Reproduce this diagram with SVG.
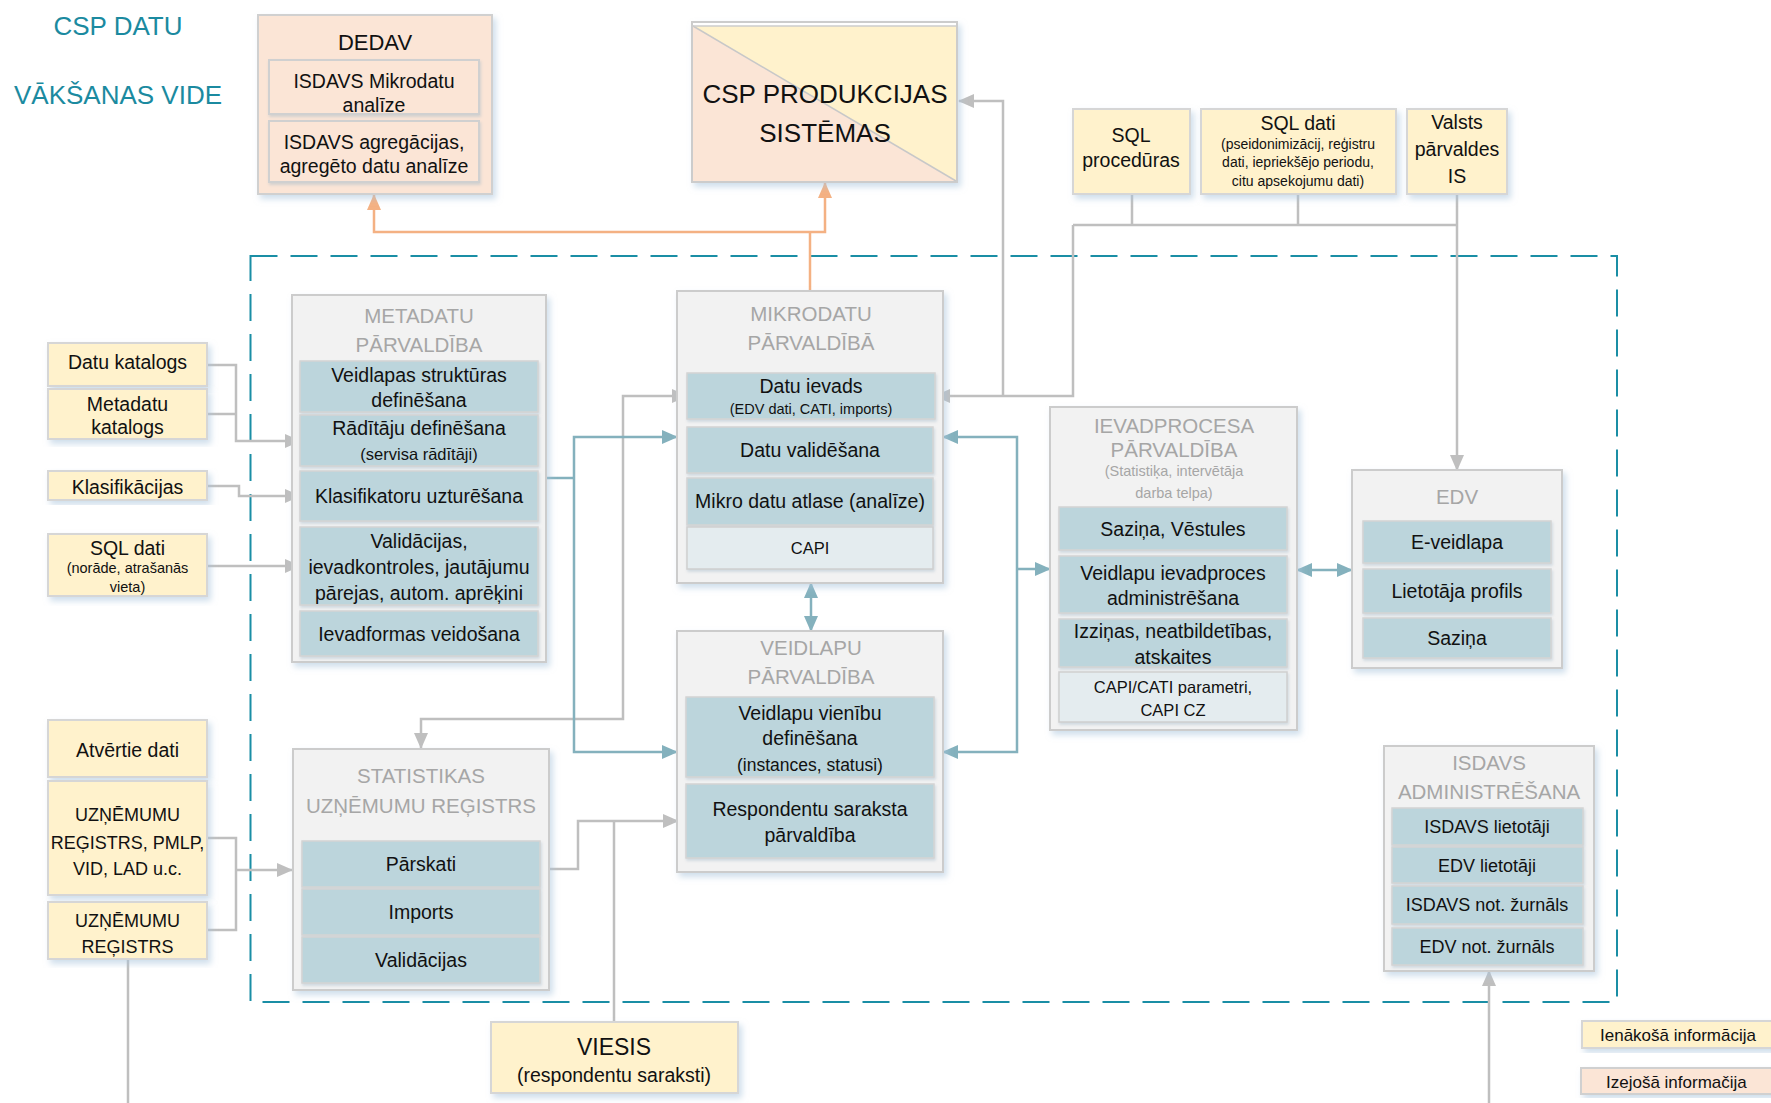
<svg xmlns="http://www.w3.org/2000/svg" width="1771" height="1103" viewBox="0 0 1771 1103">
<style>
text{font-family:"Liberation Sans",Arial,sans-serif;fill:#111;text-anchor:middle;dominant-baseline:central}
.in{fill:#fff2cc;stroke:#d6d6d6;stroke-width:2}
.out{fill:#fbe5d6;stroke:#d0d0d0;stroke-width:2}
.mod{fill:#f2f2f2;stroke:#cccccc;stroke-width:2}
.sub{fill:#bcd5dc;stroke:#d4d4d4;stroke-width:1.5}
.subl{fill:#e4ecef;stroke:#cfcfcf;stroke-width:1.5}
.mt{font-size:20.5px;fill:#a6a6a6}
.mts{font-size:14.5px;fill:#a6a6a6}
.f19{font-size:19.5px}
.f18{font-size:18px}
.f17{font-size:17px}
.f16{font-size:16.5px}
.f14{font-size:14.5px}
.title{font-size:26px;fill:#1b8aa0;text-anchor:middle;dominant-baseline:alphabetic}
.cg{fill:none;stroke:#bfbfbf;stroke-width:2.5}
.ct{fill:none;stroke:#84b1bd;stroke-width:2.5}
.co{fill:none;stroke:#f4b183;stroke-width:2.5}
</style>
<defs>
<filter id="sh" x="-10%" y="-10%" width="125%" height="125%">
<feDropShadow dx="3" dy="4" stdDeviation="3" flood-color="#a9c4dc" flood-opacity="0.55"/>
</filter>
<filter id="sh2" x="-10%" y="-10%" width="125%" height="130%">
<feDropShadow dx="1" dy="2" stdDeviation="1.5" flood-color="#a0b8c8" flood-opacity="0.45"/>
</filter>
<marker id="ag" viewBox="0 0 16 14" refX="15" refY="7" markerWidth="16" markerHeight="14" markerUnits="userSpaceOnUse" orient="auto-start-reverse"><path d="M0,0 L16,7 L0,14 z" fill="#bfbfbf"/></marker>
<marker id="at" viewBox="0 0 16 14" refX="15" refY="7" markerWidth="16" markerHeight="14" markerUnits="userSpaceOnUse" orient="auto-start-reverse"><path d="M0,0 L16,7 L0,14 z" fill="#84b1bd"/></marker>
<marker id="ao" viewBox="0 0 16 14" refX="15" refY="7" markerWidth="16" markerHeight="14" markerUnits="userSpaceOnUse" orient="auto-start-reverse"><path d="M0,0 L16,7 L0,14 z" fill="#f4b183"/></marker>
</defs>

<rect width="1771" height="1103" fill="#ffffff"/>

<text class="title" x="118" y="35">CSP DATU</text>
<text class="title" x="118" y="104">VĀKŠANAS VIDE</text>

<rect id="boundary" x="250.5" y="256" width="1366.5" height="746" fill="none" stroke="#1a8ea5" stroke-width="2" stroke-dasharray="27 13"/>

<g id="connectors">
<path class="cg" d="M207,365 H236 V441 H300" marker-end="url(#ag)"/>
<path class="cg" d="M207,414 H236"/>
<path class="cg" d="M207,486 H239 V496 H300" marker-end="url(#ag)"/>
<path class="cg" d="M207,566 H300" marker-end="url(#ag)"/>
<path class="cg" d="M207,838 H236 V930 H207"/>
<path class="cg" d="M236,870 H292" marker-end="url(#ag)"/>
<path class="cg" d="M128,959 V1103"/>
<path class="cg" d="M421,748 V719 H623 V396 H687" marker-start="url(#ag)" marker-end="url(#ag)"/>
<path class="cg" d="M549,869 H578 V821 H678" marker-end="url(#ag)"/>
<path class="cg" d="M614,1022 V821"/>
<path class="cg" d="M1132,194 V225 M1298,194 V225 M1073,225 H1457"/>
<path class="cg" d="M1457,194 V470" marker-end="url(#ag)"/>
<path class="cg" d="M1073,225 V396 H935" marker-end="url(#ag)"/>
<path class="cg" d="M1003,396 V101 H959" marker-end="url(#ag)"/>
<path class="cg" d="M1489,1103 V971" marker-end="url(#ag)"/>

<path class="ct" d="M546,478 H574"/>
<path class="ct" d="M574,478 V437 H677" marker-end="url(#at)"/>
<path class="ct" d="M574,478 V752 H677" marker-end="url(#at)"/>
<path class="ct" d="M943,437 H1017 V752 H943" marker-start="url(#at)" marker-end="url(#at)"/>
<path class="ct" d="M1017,569 H1050" marker-end="url(#at)"/>
<path class="ct" d="M811,583 V631" marker-start="url(#at)" marker-end="url(#at)"/>
<path class="ct" d="M1297,570 H1352" marker-start="url(#at)" marker-end="url(#at)"/>

<path class="co" d="M374,195 V232 H825 V183" marker-start="url(#ao)" marker-end="url(#ao)"/>
<path class="co" d="M810,291 V232"/>
</g>

<g id="dedav">
<rect class="out" x="258" y="15" width="234" height="179" filter="url(#sh)"/>
<text x="375" y="42" style="font-size:22px">DEDAV</text>
<rect class="out" x="269" y="60" width="210" height="54" filter="url(#sh2)"/>
<text class="f19" x="374" y="81">ISDAVS Mikrodatu</text>
<text class="f19" x="374" y="105">analīze</text>
<rect class="out" x="269" y="121" width="210" height="61" filter="url(#sh2)"/>
<text class="f19" x="374" y="142">ISDAVS agregācijas,</text>
<text class="f19" x="374" y="166">agregēto datu analīze</text>
</g>

<g id="csp-produkcijas">
<rect x="692" y="22" width="265" height="160" fill="#ffffff" stroke="#cccccc" stroke-width="2" filter="url(#sh)"/>
<polygon points="693,26 956,26 956,181" fill="#fff2cc"/>
<polygon points="693,26 956,181 693,181" fill="#fbe5d6"/>
<line x1="693" y1="26" x2="956" y2="181" stroke="#c8c8c8" stroke-width="1.5"/>
<line x1="692" y1="26" x2="957" y2="26" stroke="#cccccc" stroke-width="1.5"/>
<text x="825" y="94" style="font-size:26px">CSP PRODUKCIJAS</text>
<text x="825" y="133" style="font-size:26px">SISTĒMAS</text>
</g>

<g id="sql-proceduras">
<rect class="in" x="1073" y="109" width="117" height="85" filter="url(#sh)"/>
<text class="f19" x="1131" y="135">SQL</text>
<text class="f19" x="1131" y="160">procedūras</text>
</g>
<g id="sql-dati-top">
<rect class="in" x="1201" y="109" width="195" height="85" filter="url(#sh)"/>
<text class="f19" x="1298" y="123">SQL dati</text>
<text style="font-size:14px" x="1298" y="144">(pseidonimizācij, reģistru</text>
<text style="font-size:14px" x="1298" y="162">dati, iepriekšējo periodu,</text>
<text style="font-size:14px" x="1298" y="181">citu apsekojumu dati)</text>
</g>
<g id="valsts-is">
<rect class="in" x="1407" y="109" width="100" height="85" filter="url(#sh)"/>
<text class="f19" x="1457" y="122">Valsts</text>
<text class="f19" x="1457" y="149">pārvaldes</text>
<text class="f19" x="1457" y="176">IS</text>
</g>

<g id="datu-katalogs">
<rect class="in" x="48" y="343" width="159" height="43" filter="url(#sh)"/>
<text class="f19" x="127.5" y="362">Datu katalogs</text>
</g>
<g id="metadatu-katalogs">
<rect class="in" x="48" y="389" width="159" height="50" filter="url(#sh)"/>
<text class="f19" x="127.5" y="404">Metadatu</text>
<text class="f19" x="127.5" y="427">katalogs</text>
</g>
<g id="klasifikacijas">
<rect class="in" x="48" y="471" width="159" height="29" filter="url(#sh)"/>
<text class="f19" x="127.5" y="487">Klasifikācijas</text>
</g>
<g id="sql-dati-left">
<rect class="in" x="48" y="534" width="159" height="62" filter="url(#sh)"/>
<text class="f19" x="127.5" y="548">SQL dati</text>
<text class="f14" x="127.5" y="568">(norāde, atrašanās</text>
<text class="f14" x="127.5" y="587">vieta)</text>
</g>
<g id="atvertie-dati">
<rect class="in" x="48" y="720" width="159" height="57" filter="url(#sh)"/>
<text class="f19" x="127.5" y="750">Atvērtie dati</text>
</g>
<g id="uznemumu-pmlp">
<rect class="in" x="48" y="781" width="159" height="114" filter="url(#sh)"/>
<text class="f18" x="127.5" y="815">UZŅĒMUMU</text>
<text class="f18" x="127.5" y="843">REĢISTRS, PMLP,</text>
<text class="f18" x="127.5" y="869">VID, LAD u.c.</text>
</g>
<g id="uznemumu-registrs">
<rect class="in" x="48" y="902" width="159" height="57" filter="url(#sh)"/>
<text class="f18" x="127.5" y="921">UZŅĒMUMU</text>
<text class="f18" x="127.5" y="947">REĢISTRS</text>
</g>

<g id="metadatu">
<rect class="mod" x="292" y="295" width="254" height="367" filter="url(#sh)"/>
<text class="mt" x="419" y="315">METADATU</text>
<text class="mt" x="419" y="344">PĀRVALDĪBA</text>
<rect class="sub" x="300" y="361" width="238" height="51" filter="url(#sh2)"/>
<text class="f19" x="419" y="375">Veidlapas struktūras</text>
<text class="f19" x="419" y="400">definēšana</text>
<rect class="sub" x="300" y="415" width="238" height="51" filter="url(#sh2)"/>
<text class="f19" x="419" y="428">Rādītāju definēšana</text>
<text class="f16" x="419" y="454">(servisa rādītāji)</text>
<rect class="sub" x="300" y="471" width="238" height="50" filter="url(#sh2)"/>
<text class="f19" x="419" y="496">Klasifikatoru uzturēšana</text>
<rect class="sub" x="300" y="527" width="238" height="78" filter="url(#sh2)"/>
<text class="f19" x="419" y="541">Validācijas,</text>
<text class="f19" x="419" y="567">ievadkontroles, jautājumu</text>
<text class="f19" x="419" y="593">pārejas, autom. aprēķini</text>
<rect class="sub" x="300" y="611" width="238" height="45" filter="url(#sh2)"/>
<text class="f19" x="419" y="634">Ievadformas veidošana</text>
</g>

<g id="mikrodatu">
<rect class="mod" x="677" y="291" width="266" height="292" filter="url(#sh)"/>
<text class="mt" x="811" y="313">MIKRODATU</text>
<text class="mt" x="811" y="342">PĀRVALDĪBĀ</text>
<rect class="sub" x="687" y="373" width="248" height="46" filter="url(#sh2)"/>
<text class="f19" x="811" y="386">Datu ievads</text>
<text class="f14" x="811" y="409">(EDV dati, CATI, imports)</text>
<rect class="sub" x="687" y="427" width="246" height="46" filter="url(#sh2)"/>
<text class="f19" x="810" y="450">Datu validēšana</text>
<rect class="sub" x="687" y="478" width="246" height="47" filter="url(#sh2)"/>
<text class="f19" x="810" y="501">Mikro datu atlase (analīze)</text>
<rect class="subl" x="687" y="527" width="246" height="42" filter="url(#sh2)"/>
<text class="f16" x="810" y="548">CAPI</text>
</g>

<g id="veidlapu">
<rect class="mod" x="677" y="631" width="266" height="241" filter="url(#sh)"/>
<text class="mt" x="811" y="647">VEIDLAPU</text>
<text class="mt" x="811" y="676">PĀRVALDĪBA</text>
<rect class="sub" x="686" y="697" width="248" height="80" filter="url(#sh2)"/>
<text class="f19" x="810" y="713">Veidlapu vienību</text>
<text class="f19" x="810" y="738">definēšana</text>
<text style="font-size:17.5px" x="810" y="765">(instances, statusi)</text>
<rect class="sub" x="686" y="784" width="248" height="74" filter="url(#sh2)"/>
<text class="f19" x="810" y="809">Respondentu saraksta</text>
<text class="f19" x="810" y="835">pārvaldība</text>
</g>

<g id="statistikas">
<rect class="mod" x="293" y="749" width="256" height="241" filter="url(#sh)"/>
<text class="mt" x="421" y="775">STATISTIKAS</text>
<text class="mt" x="421" y="805">UZŅĒMUMU REĢISTRS</text>
<rect class="sub" x="302" y="841" width="238" height="46" filter="url(#sh2)"/>
<text class="f19" x="421" y="864">Pārskati</text>
<rect class="sub" x="302" y="889" width="238" height="46" filter="url(#sh2)"/>
<text class="f19" x="421" y="912">Imports</text>
<rect class="sub" x="302" y="937" width="238" height="46" filter="url(#sh2)"/>
<text class="f19" x="421" y="960">Validācijas</text>
</g>

<g id="ievadprocesa">
<rect class="mod" x="1050" y="407" width="247" height="323" filter="url(#sh)"/>
<text class="mt" x="1174" y="425">IEVADPROCESA</text>
<text class="mt" x="1174" y="449">PĀRVALDĪBA</text>
<text class="mts" x="1174" y="471">(Statistiķa, intervētāja</text>
<text class="mts" x="1174" y="493">darba telpa)</text>
<rect class="sub" x="1059" y="507" width="228" height="43" filter="url(#sh2)"/>
<text class="f19" x="1173" y="529">Saziņa, Vēstules</text>
<rect class="sub" x="1059" y="556" width="228" height="57" filter="url(#sh2)"/>
<text class="f19" x="1173" y="573">Veidlapu ievadproces</text>
<text class="f19" x="1173" y="598">administrēšana</text>
<rect class="sub" x="1059" y="619" width="228" height="48" filter="url(#sh2)"/>
<text class="f19" x="1173" y="631">Izziņas, neatbildetības,</text>
<text class="f19" x="1173" y="657">atskaites</text>
<rect class="subl" x="1059" y="672" width="228" height="50" filter="url(#sh2)"/>
<text class="f16" x="1173" y="687">CAPI/CATI parametri,</text>
<text class="f16" x="1173" y="710">CAPI CZ</text>
</g>

<g id="edv">
<rect class="mod" x="1352" y="470" width="210" height="198" filter="url(#sh)"/>
<text class="mt" x="1457" y="496">EDV</text>
<rect class="sub" x="1363" y="521" width="188" height="42" filter="url(#sh2)"/>
<text class="f19" x="1457" y="542">E-veidlapa</text>
<rect class="sub" x="1363" y="569" width="188" height="44" filter="url(#sh2)"/>
<text class="f19" x="1457" y="591">Lietotāja profils</text>
<rect class="sub" x="1363" y="618" width="188" height="40" filter="url(#sh2)"/>
<text class="f19" x="1457" y="638">Saziņa</text>
</g>

<g id="isdavs-admin">
<rect class="mod" x="1384" y="746" width="210" height="225" filter="url(#sh)"/>
<text class="mt" x="1489" y="762">ISDAVS</text>
<text class="mt" x="1489" y="791">ADMINISTRĒŠANA</text>
<rect class="sub" x="1392" y="808" width="191" height="37" filter="url(#sh2)"/>
<text class="f18" x="1487" y="827">ISDAVS lietotāji</text>
<rect class="sub" x="1392" y="847" width="191" height="36" filter="url(#sh2)"/>
<text class="f18" x="1487" y="866">EDV lietotāji</text>
<rect class="sub" x="1392" y="886" width="191" height="38" filter="url(#sh2)"/>
<text class="f18" x="1487" y="905">ISDAVS not. žurnāls</text>
<rect class="sub" x="1392" y="928" width="191" height="37" filter="url(#sh2)"/>
<text class="f18" x="1487" y="947">EDV not.  žurnāls</text>
</g>

<g id="viesis">
<rect class="in" x="491" y="1022" width="247" height="71" filter="url(#sh)"/>
<text x="614" y="1047" style="font-size:23px">VIESIS</text>
<text class="f19" x="614" y="1075">(respondentu saraksti)</text>
</g>

<g id="legend-in">
<rect class="in" x="1582" y="1021" width="200" height="27" filter="url(#sh)"/>
<text class="f17" x="1600" y="1035" style="text-anchor:start">Ienākošā informācija</text>
</g>
<g id="legend-out">
<rect class="out" x="1581" y="1068" width="200" height="26" filter="url(#sh)"/>
<text class="f17" x="1606" y="1082" style="text-anchor:start">Izejošā informačija</text>
</g>
</svg>
